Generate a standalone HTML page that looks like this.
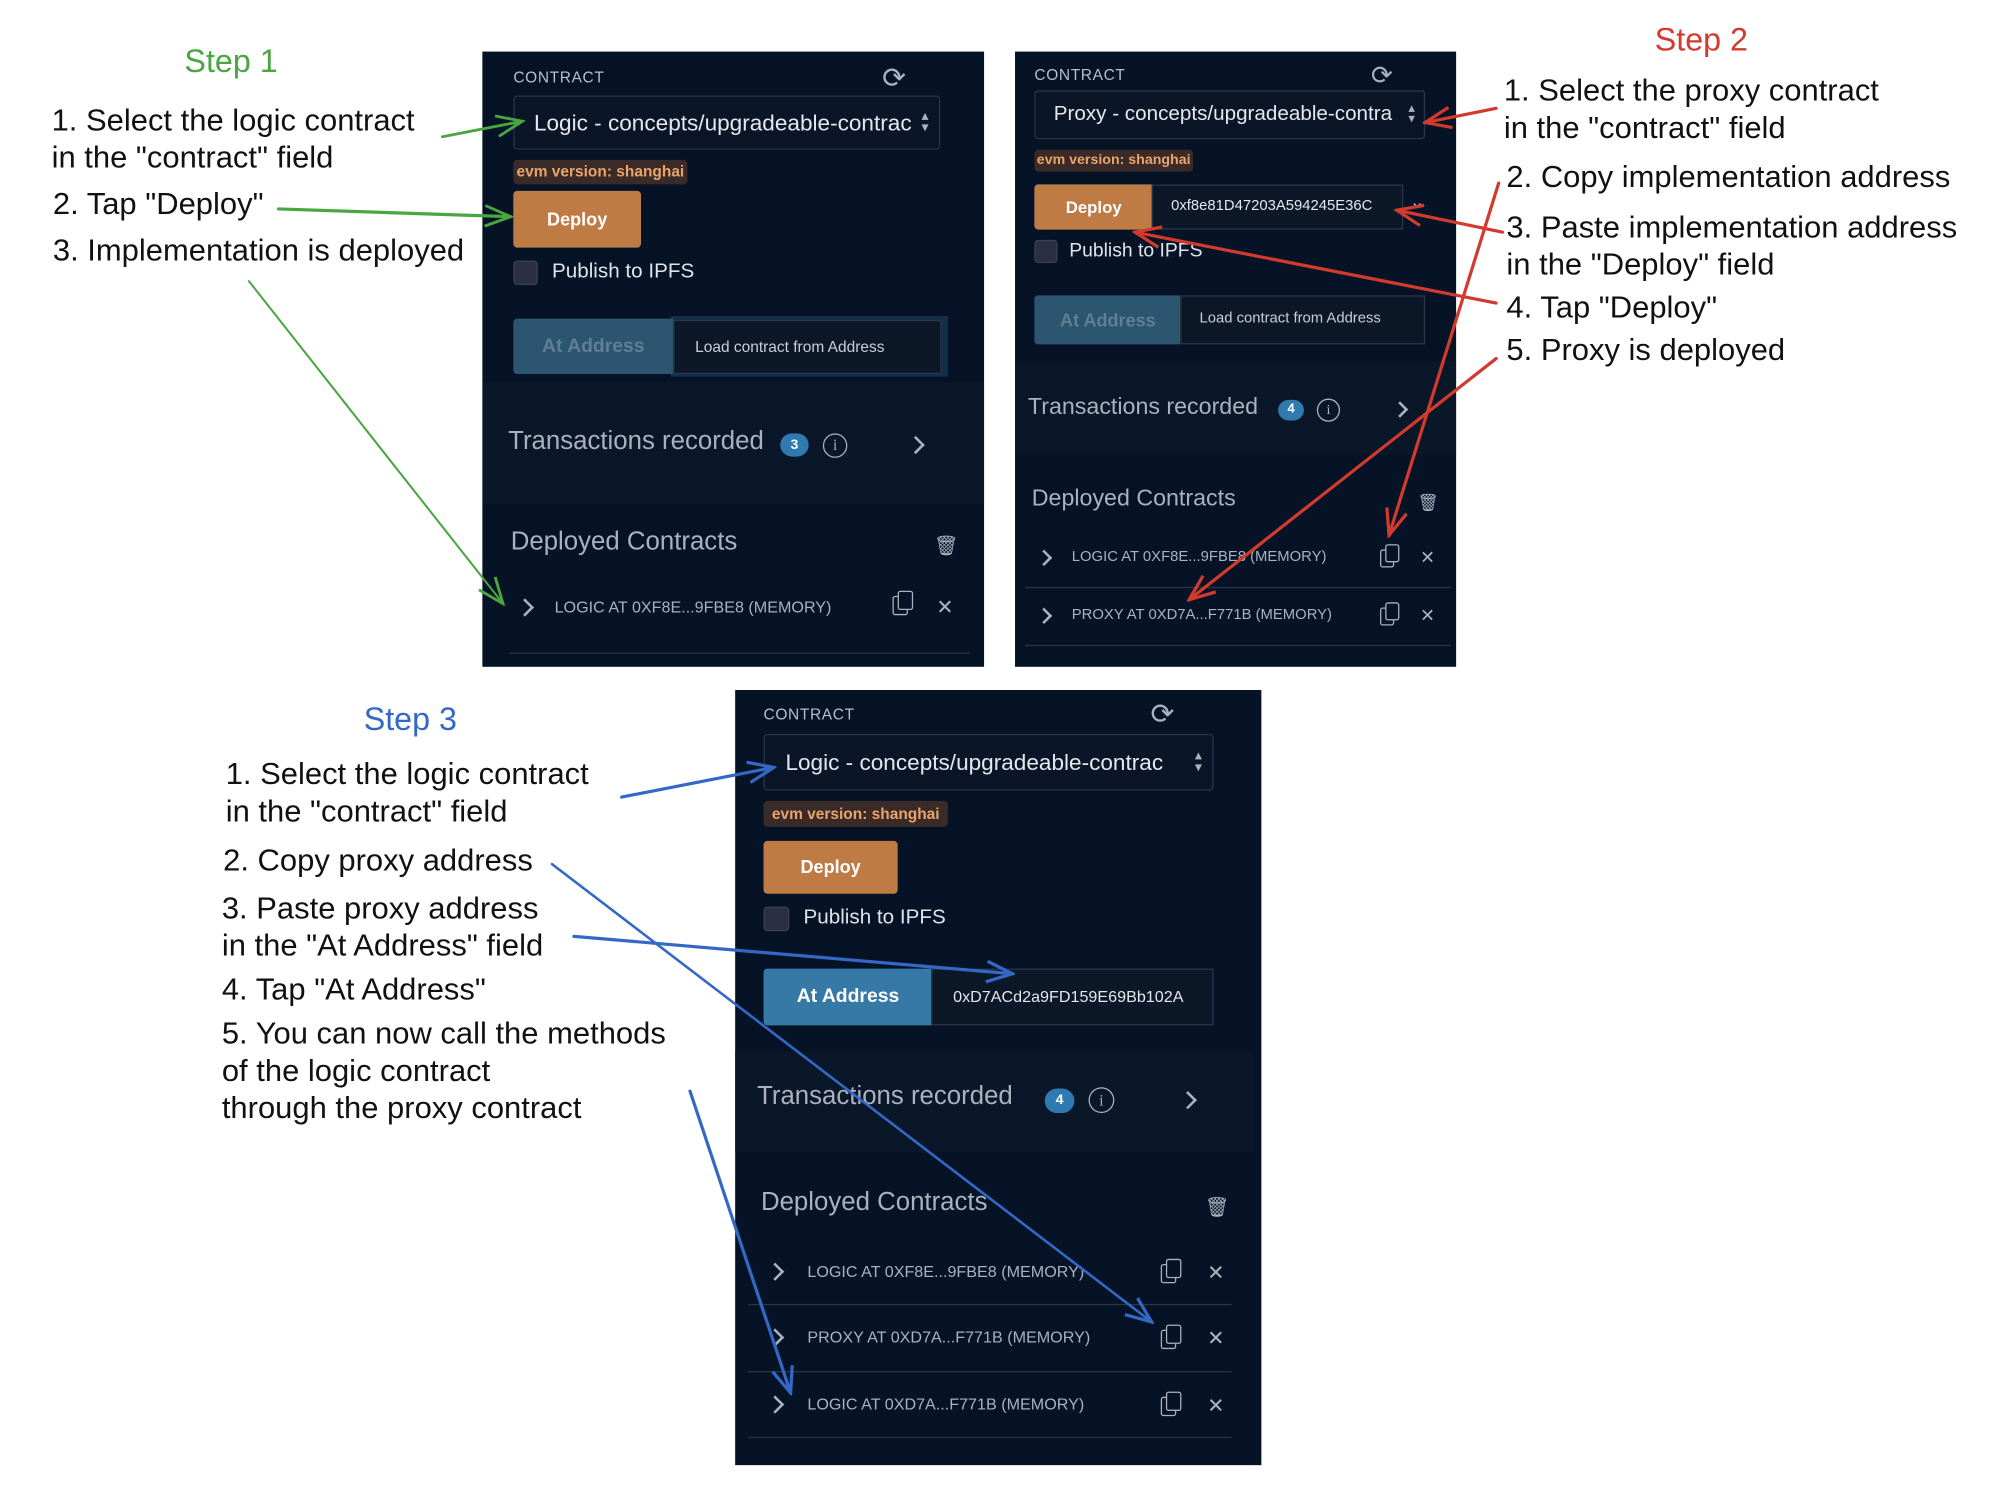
<!DOCTYPE html>
<html><head><meta charset="utf-8">
<style>
html,body{margin:0;padding:0;background:#fff;}
body{width:2012px;height:1500px;overflow:hidden;position:relative;}
#w{position:absolute;left:0;top:0;width:1560px;height:1163px;transform:scale(1.28974);transform-origin:0 0;font-family:"Liberation Sans",sans-serif;}
.a{position:absolute;white-space:nowrap;}
.note{position:absolute;font-size:24px;color:#111;line-height:29px;white-space:nowrap;}
.panel{position:absolute;background:#061326;overflow:hidden;}
.lbl{font-size:12px;color:#b7bfcc;letter-spacing:.5px;}
.sel{position:absolute;border:1px solid #27344a;border-radius:3px;background:#0a1628;color:#e4e8ee;overflow:hidden;box-sizing:border-box;}
.badge{position:absolute;background:#3a2a28;color:#e8a46b;font-weight:bold;border-radius:3px;text-align:center;box-sizing:border-box;}
.dep{position:absolute;background:#bf7b44;color:#fff;font-weight:bold;border-radius:3px;text-align:center;box-sizing:border-box;}
.cb{position:absolute;background:#2a2f45;border:1px solid #3a3f55;border-radius:3px;box-sizing:border-box;}
.txt{color:#dfe3ea;}
.atb{position:absolute;background:#2c5670;color:#5f7f94;font-weight:bold;text-align:center;border-radius:3px 0 0 3px;box-sizing:border-box;}
.inp{position:absolute;background:#0c1828;border:1px solid #2a3548;color:#c9ced7;box-sizing:border-box;overflow:hidden;}
.tx{position:absolute;background:#0a1729;}
.grey{color:#aab1bf;}
.cnt{position:absolute;background:#2f7bb1;color:#fff;font-weight:bold;border-radius:10px;text-align:center;font-size:11px;}
.info{position:absolute;border:1.5px solid #aab1bf;border-radius:50%;color:#aab1bf;text-align:center;font-family:"Liberation Serif",serif;box-sizing:border-box;}
.row{color:#aab1bf;font-size:12.5px;}
.sep{position:absolute;height:1px;background:#2a3446;}
.chev{position:absolute;width:8px;height:8px;border-right:2px solid #aab1bf;border-top:2px solid #aab1bf;transform:rotate(45deg);}
</style></head><body><div id="w">

<div class="a" style="left:143px;top:34px;font-size:25px;color:#4aa640;">Step 1</div>
<div class="note" style="left:40px;top:79px;">1. Select the logic contract<br>in the "contract" field</div>
<div class="note" style="left:41px;top:144px;">2. Tap "Deploy"</div>
<div class="note" style="left:41px;top:180px;">3. Implementation is deployed</div>

<div class="a" style="left:1283px;top:17px;font-size:25px;color:#d23a2e;">Step 2</div>
<div class="note" style="left:1166px;top:56px;">1. Select the proxy contract<br>in the "contract" field</div>
<div class="note" style="left:1168px;top:123px;">2. Copy implementation address</div>
<div class="note" style="left:1168px;top:162px;">3. Paste implementation address<br>in the "Deploy" field</div>
<div class="note" style="left:1168px;top:224px;">4. Tap "Deploy"</div>
<div class="note" style="left:1168px;top:257px;">5. Proxy is deployed</div>

<div class="a" style="left:282px;top:544px;font-size:25px;color:#3468c6;">Step 3</div>
<div class="note" style="left:175px;top:586px;">1. Select the logic contract<br>in the "contract" field</div>
<div class="note" style="left:173px;top:653px;">2. Copy proxy address</div>
<div class="note" style="left:172px;top:690px;">3. Paste proxy address<br>in the "At Address" field</div>
<div class="note" style="left:172px;top:753px;">4. Tap "At Address"</div>
<div class="note" style="left:172px;top:787px;">5. You can now call the methods<br>of the logic contract<br>through the proxy contract</div>

<!-- Panel 1 -->
<div class="panel" style="left:374px;top:40px;width:389px;height:477px;">
 <div class="a lbl" style="left:24px;top:13px;">CONTRACT</div>
 <div class="a grey" style="left:310px;top:8px;font-size:22px;">⟳</div>
 <div class="sel" style="left:24px;top:34px;width:331px;height:42px;font-size:17.5px;padding:10px 0 0 15px;">Logic - concepts/upgradeable-contrac<span style="position:absolute;right:8px;top:11px;font-size:11px;color:#aab1bf;line-height:9px;">▴<br>▾</span></div>
 <div class="badge" style="left:24px;top:84px;width:135px;height:19px;font-size:12px;line-height:19px;">evm version: shanghai</div>
 <div class="dep" style="left:24px;top:108px;width:99px;height:44px;font-size:14px;line-height:44px;">Deploy</div>
 <div class="cb" style="left:24px;top:162px;width:19px;height:19px;"></div>
 <div class="a txt" style="left:54px;top:162px;font-size:16px;">Publish to IPFS</div>
 <div class="a" style="left:146px;top:205px;width:215px;height:47px;background:#12304a;"></div>
 <div class="atb" style="left:24px;top:207px;width:124px;height:43px;font-size:15px;line-height:43px;">At Address</div>
 <div class="inp" style="left:148px;top:208px;width:208px;height:42px;font-size:12px;padding:13px 0 0 16px;">Load contract from Address</div>
 <div class="tx" style="left:0;top:256px;width:389px;height:95px;"></div>
 <div class="a grey" style="left:20px;top:291px;font-size:20px;">Transactions recorded</div>
 <div class="cnt" style="left:231px;top:296px;width:22px;height:18px;line-height:18px;">3</div>
 <div class="info" style="left:264px;top:296px;width:19px;height:19px;font-size:12px;line-height:17px;">i</div>
 <div class="chev" style="left:331px;top:300px;"></div>
 <div class="a grey" style="left:22px;top:369px;font-size:20px;">Deployed Contracts</div>
 <div class="a grey" style="left:350px;top:374px;font-size:15px;">🗑</div>
 <div class="chev" style="left:28px;top:426px;"></div>
 <div class="a row" style="left:56px;top:424px;">LOGIC AT 0XF8E...9FBE8 (MEMORY)</div>
 <div class="a" style="left:318px;top:422px;width:10px;height:13px;border:1.5px solid #aab1bf;border-radius:2px;"></div>
 <div class="a" style="left:322px;top:418px;width:10px;height:13px;border:1.5px solid #aab1bf;border-radius:2px;background:#061326;"></div>
 <div class="a grey" style="left:352px;top:421px;font-size:16px;">✕</div>
 <div class="sep" style="left:21px;top:466px;width:357px;"></div>
</div>

<!-- Panel 2 -->
<div class="panel" style="left:787px;top:40px;width:342px;height:477px;">
 <div class="a lbl" style="left:15px;top:11px;">CONTRACT</div>
 <div class="a grey" style="left:276px;top:6px;font-size:20px;">⟳</div>
 <div class="sel" style="left:15px;top:30px;width:303px;height:38px;font-size:16px;padding:9px 0 0 14px;">Proxy - concepts/upgradeable-contra<span style="position:absolute;right:7px;top:10px;font-size:10px;color:#aab1bf;line-height:8px;">▴<br>▾</span></div>
 <div class="badge" style="left:15px;top:76px;width:123px;height:17px;font-size:11px;line-height:17px;">evm version: shanghai</div>
 <div class="dep" style="left:15px;top:103px;width:92px;height:35px;font-size:13px;line-height:35px;border-radius:3px 0 0 3px;">Deploy</div>
 <div class="inp" style="left:106px;top:103px;width:195px;height:35px;font-size:11.5px;padding:10px 0 0 14px;color:#e4e8ee;">0xf8e81D47203A594245E36C</div>
 <div class="a grey" style="left:306px;top:108px;font-size:14px;">⌄</div>
 <div class="cb" style="left:15px;top:146px;width:18px;height:18px;"></div>
 <div class="a txt" style="left:42px;top:146px;font-size:15px;">Publish to IPFS</div>
 <div class="atb" style="left:15px;top:189px;width:114px;height:38px;font-size:14px;line-height:38px;">At Address</div>
 <div class="inp" style="left:128px;top:189px;width:190px;height:38px;font-size:11.5px;padding:11px 0 0 14px;">Load contract from Address</div>
 <div class="tx" style="left:0;top:240px;width:342px;height:72px;"></div>
 <div class="a grey" style="left:10px;top:265px;font-size:18px;">Transactions recorded</div>
 <div class="cnt" style="left:204px;top:270px;width:20px;height:16px;line-height:16px;font-size:10px;">4</div>
 <div class="info" style="left:234px;top:269px;width:18px;height:18px;font-size:11px;line-height:16px;">i</div>
 <div class="chev" style="left:294px;top:273px;width:7px;height:7px;"></div>
 <div class="a grey" style="left:13px;top:336px;font-size:18px;">Deployed Contracts</div>
 <div class="a grey" style="left:312px;top:342px;font-size:13px;">🗑</div>
 <div class="chev" style="left:18px;top:388px;width:7px;height:7px;"></div>
 <div class="a row" style="left:44px;top:386px;font-size:11.5px;">LOGIC AT 0XF8E...9FBE8 (MEMORY)</div>
 <div class="a" style="left:283px;top:386px;width:9px;height:12px;border:1.5px solid #aab1bf;border-radius:2px;"></div>
 <div class="a" style="left:287px;top:382px;width:9px;height:12px;border:1.5px solid #aab1bf;border-radius:2px;background:#061326;"></div>
 <div class="a grey" style="left:314px;top:384px;font-size:14px;">✕</div>
 <div class="sep" style="left:8px;top:415px;width:330px;"></div>
 <div class="chev" style="left:18px;top:433px;width:7px;height:7px;"></div>
 <div class="a row" style="left:44px;top:431px;font-size:11.5px;">PROXY AT 0XD7A...F771B (MEMORY)</div>
 <div class="a" style="left:283px;top:431px;width:9px;height:12px;border:1.5px solid #aab1bf;border-radius:2px;"></div>
 <div class="a" style="left:287px;top:427px;width:9px;height:12px;border:1.5px solid #aab1bf;border-radius:2px;background:#061326;"></div>
 <div class="a grey" style="left:314px;top:429px;font-size:14px;">✕</div>
 <div class="sep" style="left:8px;top:460px;width:330px;"></div>
</div>

<!-- Panel 3 -->
<div class="panel" style="left:570px;top:535px;width:408px;height:601px;">
 <div class="a lbl" style="left:22px;top:12px;">CONTRACT</div>
 <div class="a grey" style="left:322px;top:6px;font-size:22px;">⟳</div>
 <div class="sel" style="left:22px;top:34px;width:349px;height:44px;font-size:17.5px;padding:11px 0 0 16px;">Logic - concepts/upgradeable-contrac<span style="position:absolute;right:8px;top:12px;font-size:11px;color:#aab1bf;line-height:9px;">▴<br>▾</span></div>
 <div class="badge" style="left:22px;top:86px;width:143px;height:20px;font-size:12px;line-height:20px;">evm version: shanghai</div>
 <div class="dep" style="left:22px;top:117px;width:104px;height:41px;font-size:14px;line-height:41px;">Deploy</div>
 <div class="cb" style="left:22px;top:168px;width:20px;height:19px;"></div>
 <div class="a txt" style="left:53px;top:168px;font-size:16px;">Publish to IPFS</div>
 <div class="atb" style="left:22px;top:216px;width:131px;height:44px;font-size:15px;line-height:44px;background:#3679a6;color:#fff;">At Address</div>
 <div class="inp" style="left:152px;top:216px;width:219px;height:44px;font-size:12.5px;padding:14px 0 0 16px;color:#e4e8ee;">0xD7ACd2a9FD159E69Bb102A</div>
 <div class="tx" style="left:0;top:280px;width:402px;height:78px;"></div>
 <div class="a grey" style="left:17px;top:304px;font-size:20px;">Transactions recorded</div>
 <div class="cnt" style="left:240px;top:309px;width:23px;height:19px;line-height:19px;">4</div>
 <div class="info" style="left:274px;top:308px;width:20px;height:20px;font-size:12px;line-height:18px;">i</div>
 <div class="chev" style="left:346px;top:313px;"></div>
 <div class="a grey" style="left:20px;top:386px;font-size:20px;">Deployed Contracts</div>
 <div class="a grey" style="left:364px;top:392px;font-size:15px;">🗑</div>

 <div class="chev" style="left:26px;top:446px;"></div>
 <div class="a row" style="left:56px;top:444px;">LOGIC AT 0XF8E...9FBE8 (MEMORY)</div>
 <div class="a" style="left:330px;top:445px;width:10px;height:13px;border:1.5px solid #aab1bf;border-radius:2px;"></div>
 <div class="a" style="left:334px;top:441px;width:10px;height:13px;border:1.5px solid #aab1bf;border-radius:2px;background:#061326;"></div>
 <div class="a grey" style="left:366px;top:442px;font-size:16px;">✕</div>
 <div class="sep" style="left:10px;top:476px;width:375px;"></div>

 <div class="chev" style="left:26px;top:497px;"></div>
 <div class="a row" style="left:56px;top:495px;">PROXY AT 0XD7A...F771B (MEMORY)</div>
 <div class="a" style="left:330px;top:496px;width:10px;height:13px;border:1.5px solid #aab1bf;border-radius:2px;"></div>
 <div class="a" style="left:334px;top:492px;width:10px;height:13px;border:1.5px solid #aab1bf;border-radius:2px;background:#061326;"></div>
 <div class="a grey" style="left:366px;top:493px;font-size:16px;">✕</div>
 <div class="sep" style="left:10px;top:528px;width:375px;"></div>

 <div class="chev" style="left:26px;top:549px;"></div>
 <div class="a row" style="left:56px;top:547px;">LOGIC AT 0XD7A...F771B (MEMORY)</div>
 <div class="a" style="left:330px;top:548px;width:10px;height:13px;border:1.5px solid #aab1bf;border-radius:2px;"></div>
 <div class="a" style="left:334px;top:544px;width:10px;height:13px;border:1.5px solid #aab1bf;border-radius:2px;background:#061326;"></div>
 <div class="a grey" style="left:366px;top:545px;font-size:16px;">✕</div>
 <div class="sep" style="left:10px;top:579px;width:375px;"></div>
</div>

<svg style="position:absolute;left:0;top:0;" width="1560" height="1163" viewBox="0 0 1560 1163">
 <defs>
  <marker id="g" markerUnits="userSpaceOnUse" markerWidth="24" markerHeight="20" refX="22" refY="10" orient="auto"><path d="M2,2 L22,10 L2,18" fill="none" stroke="#4aa640" stroke-width="2.2"/></marker>
  <marker id="r" markerUnits="userSpaceOnUse" markerWidth="24" markerHeight="20" refX="22" refY="10" orient="auto"><path d="M2,2 L22,10 L2,18" fill="none" stroke="#d23a2e" stroke-width="2.5"/></marker>
  <marker id="b" markerUnits="userSpaceOnUse" markerWidth="24" markerHeight="20" refX="22" refY="10" orient="auto"><path d="M2,2 L22,10 L2,18" fill="none" stroke="#3468c6" stroke-width="2.5"/></marker>
 </defs>
 <g fill="none" stroke-linecap="round">
  <line x1="343" y1="106" x2="405" y2="94" stroke="#4aa640" stroke-width="2.2" marker-end="url(#g)"/>
  <line x1="216" y1="162" x2="396" y2="168" stroke="#4aa640" stroke-width="2.5" marker-end="url(#g)"/>
  <line x1="193" y1="218" x2="390" y2="468" stroke="#4aa640" stroke-width="1.6" marker-end="url(#g)"/>
  <line x1="1160" y1="84" x2="1105" y2="95" stroke="#d23a2e" stroke-width="2.5" marker-end="url(#r)"/>
  <line x1="1162" y1="142" x2="1077" y2="415" stroke="#d23a2e" stroke-width="2.5" marker-end="url(#r)"/>
  <line x1="1165" y1="180" x2="1083" y2="163" stroke="#d23a2e" stroke-width="2.5" marker-end="url(#r)"/>
  <line x1="1160" y1="235" x2="880" y2="180" stroke="#d23a2e" stroke-width="2.5" marker-end="url(#r)"/>
  <line x1="1160" y1="278" x2="922" y2="465" stroke="#d23a2e" stroke-width="2.5" marker-end="url(#r)"/>
  <line x1="482" y1="618" x2="600" y2="595" stroke="#3468c6" stroke-width="2.5" marker-end="url(#b)"/>
  <line x1="428" y1="670" x2="893" y2="1025" stroke="#3468c6" stroke-width="2" marker-end="url(#b)"/>
  <line x1="445" y1="726" x2="785" y2="755" stroke="#3468c6" stroke-width="2.5" marker-end="url(#b)"/>
  <line x1="535" y1="846" x2="613" y2="1080" stroke="#3468c6" stroke-width="2.5" marker-end="url(#b)"/>
 </g>
</svg>
</div></body></html>
